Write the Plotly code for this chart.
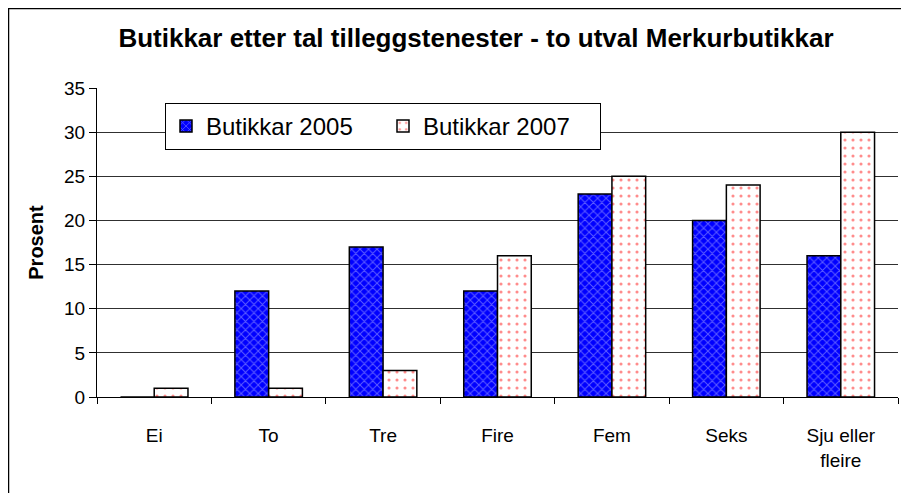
import plotly.graph_objects as go

categories = ["Ei", "To", "Tre", "Fire", "Fem", "Seks", "Sju eller<br>fleire"]
butikkar_2005 = [0, 12, 17, 12, 23, 20, 16]
butikkar_2007 = [1, 1, 3, 16, 25, 24, 30]
series_names = ["Butikkar 2005", "Butikkar 2007"]
y_ticks = [0, 5, 10, 15, 20, 25, 30, 35]

FONT = "Liberation Sans, Arial, sans-serif"

fig = go.Figure()
fig.add_trace(go.Bar(
    x=categories, y=butikkar_2005, name=series_names[0],
    marker=dict(
        color="#0000ff",
        line=dict(color="black", width=1.5),
        pattern=dict(shape="x", bgcolor="#0000ff", fgcolor="#b8b8ff", size=6, solidity=0.3),
    ),
))
fig.add_trace(go.Bar(
    x=categories, y=butikkar_2007, name=series_names[1],
    marker=dict(
        color="white",
        line=dict(color="black", width=1.5),
        pattern=dict(shape=".", bgcolor="white", fgcolor="#ff1a1a", size=8, solidity=0.12),
    ),
))

# page body has an 8px margin; figure occupies page (8..909, 8..493)
OFF = 8
W, H = 909 - OFF, 493 - OFF
L, R, T, B = 97 - OFF, 11, 88 - OFF, 96
pw, ph = W - L - R, H - T - B

def px_x(x):  # page x -> paper x
    return (x - OFF - L) / pw

def px_y(y):  # page y -> paper y
    return 1 - (y - OFF - T) / ph

fig.update_layout(
    width=W, height=H,
    margin=dict(l=L, r=R, t=T, b=B, pad=0),
    paper_bgcolor="white", plot_bgcolor="white",
    font=dict(family=FONT, color="black", size=19),
    barmode="group", bargap=0.41, bargroupgap=0,
    title=dict(text="<b>Butikkar etter tal tilleggstenester - to utval Merkurbutikkar</b>",
               x=px_x(476), xref="paper", xanchor="center",
               y=1 - (38 - OFF) / H, yanchor="middle",
               font=dict(family=FONT, size=26, color="black")),
    legend=dict(
        orientation="h", x=px_x(165), y=px_y(103),
        xanchor="left", yanchor="top",
        bordercolor="black", borderwidth=1, bgcolor="white",
        font=dict(family=FONT, size=24, color="black"),
        entrywidth=172, entrywidthmode="pixels",
    ),
    xaxis=dict(
        showline=True, linecolor="black", linewidth=1,
        ticks="outside", tickson="boundaries", ticklen=6, tickcolor="black",
        tickfont=dict(size=19), showgrid=False, ticklabelstandoff=21,
    ),
    yaxis=dict(
        range=[0, 35], tickvals=y_ticks, showline=True, linecolor="black", linewidth=1,
        ticks="outside", ticklen=7, tickcolor="black",
        showgrid=True, gridcolor="#303030", gridwidth=1,
        tickfont=dict(size=19),
        title=dict(text="<b>Prosent</b>", font=dict(size=20), standoff=15),
        zeroline=False,
    ),
    showlegend=True,
)

# outer chart frame (left and top edges visible in the reference)
fig.add_shape(type="rect", xref="paper", yref="paper",
              x0=px_x(8.5), x1=1 + 40 / pw, y0=-(B + 40) / ph, y1=px_y(8.5),
              line=dict(color="black", width=1.5), fillcolor="rgba(0,0,0,0)", layer="below")

fig.write_html("out.html")
